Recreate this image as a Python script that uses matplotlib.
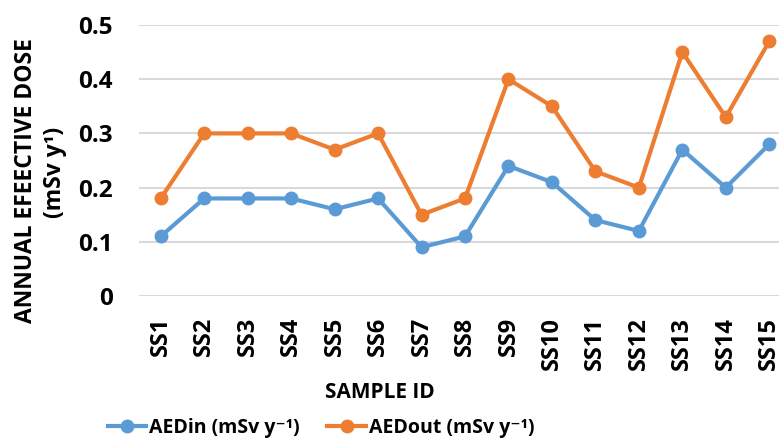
import numpy as np
import matplotlib.pyplot as plt

samples = ['SS1', 'SS2', 'SS3', 'SS4', 'SS5', 'SS6', 'SS7', 'SS8',
           'SS9', 'SS10', 'SS11', 'SS12', 'SS13', 'SS14', 'SS15']
aed_in = [0.11, 0.18, 0.18, 0.18, 0.16, 0.18, 0.09, 0.11,
          0.24, 0.21, 0.14, 0.12, 0.27, 0.20, 0.28]
aed_out = [0.18, 0.30, 0.30, 0.30, 0.27, 0.30, 0.15, 0.18,
           0.40, 0.35, 0.23, 0.20, 0.45, 0.33, 0.47]
yticks = [0, 0.1, 0.2, 0.3, 0.4, 0.5]
ytick_labels = ['0', '0.1', '0.2', '0.3', '0.4', '0.5']

plt.rcParams['font.family'] = ['Open Sans', 'DejaVu Sans']
plt.rcParams['font.weight'] = 'bold'

fig = plt.figure(figsize=(7.79, 4.43), dpi=100)
ax = fig.add_axes([139 / 779, 1 - 296 / 443, 652 / 779, 271 / 443])

xx = np.arange(len(samples))
ax.plot(xx, aed_in, color='#5B9BD5', lw=3, marker='o', ms=9,
        label='AEDin (mSv y\u207b\u00b9)', clip_on=False, zorder=3)
ax.plot(xx, aed_out, color='#ED7D31', lw=3, marker='o', ms=9,
        label='AEDout (mSv y\u207b\u00b9)', clip_on=False, zorder=3)

ax.set_xlim(-0.5, len(samples) - 0.5)
ax.set_ylim(0, 0.5)
ax.set_yticks(yticks)
ax.set_yticklabels(ytick_labels, fontsize=17.5, fontweight='bold')
ax.set_xticks(xx)
ax.set_xticklabels(samples, rotation=90, fontsize=17, fontweight='bold')
ax.tick_params(length=0)
ax.tick_params(axis='x', pad=15)
ax.tick_params(axis='y', pad=19)

ax.grid(axis='y', color='#D9D9D9', lw=1.5)
ax.set_axisbelow(True)
for s in ax.spines.values():
    s.set_visible(False)

fig.text(26 / 779, 1 - 181 / 443, 'ANNUAL EFEECTIVE DOSE', rotation=90,
         fontsize=16.5, fontweight='bold', ha='center', va='center')
fig.text(55 / 779, 1 - 172 / 443, '(mSv y\u00b9)', rotation=90,
         fontsize=16.5, fontweight='bold', ha='center', va='center')
fig.text(380 / 779, 1 - 393 / 443, 'SAMPLE ID', fontsize=15,
         fontweight='bold', ha='center', va='center')

leg = fig.legend(loc='center', bbox_to_anchor=(321 / 779, 1 - 428 / 443),
                 ncol=2, frameon=False, handlelength=2.0, columnspacing=1.4,
                 handletextpad=0.15, borderpad=0, fontsize=14)
for t in leg.get_texts():
    t.set_fontweight('bold')
    t.set_fontsize(14)

plt.savefig('out.png', dpi=100)
